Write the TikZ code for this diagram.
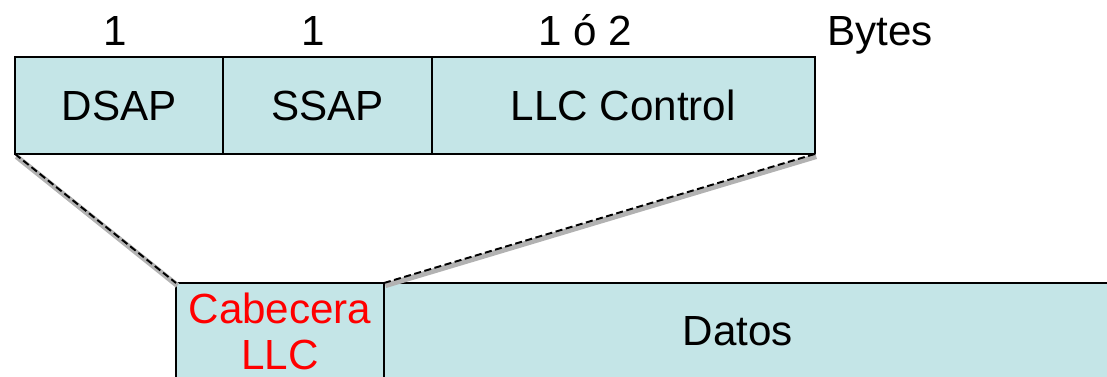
\documentclass[tikz,border=0pt]{standalone}
\usepackage{fontspec}
\setmainfont{Liberation Sans}
\usepackage{tikz}
\usetikzlibrary{positioning}
\definecolor{fieldcyan}{RGB}{196,229,231}
\tikzset{
  field/.style={rectangle, draw=black, fill=fieldcyan, line width=0.9pt, inner sep=0pt, outer sep=0pt,
                minimum height=1.94cm, font=\fontsize{24}{26}\selectfont, align=center},
  bytelabel/.style={font=\fontsize{24}{26}\selectfont, anchor=base},
  zoomline/.style={dash pattern=on 4pt off 2pt, line width=1.1pt,
                   preaction={draw=black!30, solid, line width=3pt, transform canvas={shift={(0.8pt,-1.4pt)}}}}, % soft shadow
}

\begin{document}
\begin{tikzpicture}[x=0.02cm, y=-0.02cm]
  \useasboundingbox (0,0) rectangle (1107,376);
  \clip (0,0) rectangle (1107,376);

  % LLC header fields
  \node[field, minimum width=4.16cm, anchor=north west] (dsap) at (15,57) {DSAP};
  \node[field, minimum width=4.18cm, right=0pt of dsap] (ssap) {SSAP};
  \node[field, minimum width=7.66cm, right=0pt of ssap] (ctrl) {LLC Control};

  % field sizes
  \node[bytelabel] (n1) at (115,45) {1};
  \node[bytelabel] (n2) at (313,45) {1};
  \node[bytelabel] (n3) at (585,45) {1 ó 2};
  \node[bytelabel] (unit) at (880,45) {Bytes};

  % frame
  \node[field, minimum width=4.16cm, anchor=north west, text=red] (hdr) at (176,283) {Cabecera\\LLC};
  \node[field, minimum width=15cm, right=0pt of hdr,
        label={[font=\fontsize{24}{26}\selectfont, xshift=-0.42cm]center:Datos}] (datos) {};

  \draw[zoomline] (dsap.south west) -- (hdr.north west);
  \draw[zoomline] (ctrl.south east) -- (hdr.north east);
\end{tikzpicture}
\end{document}
